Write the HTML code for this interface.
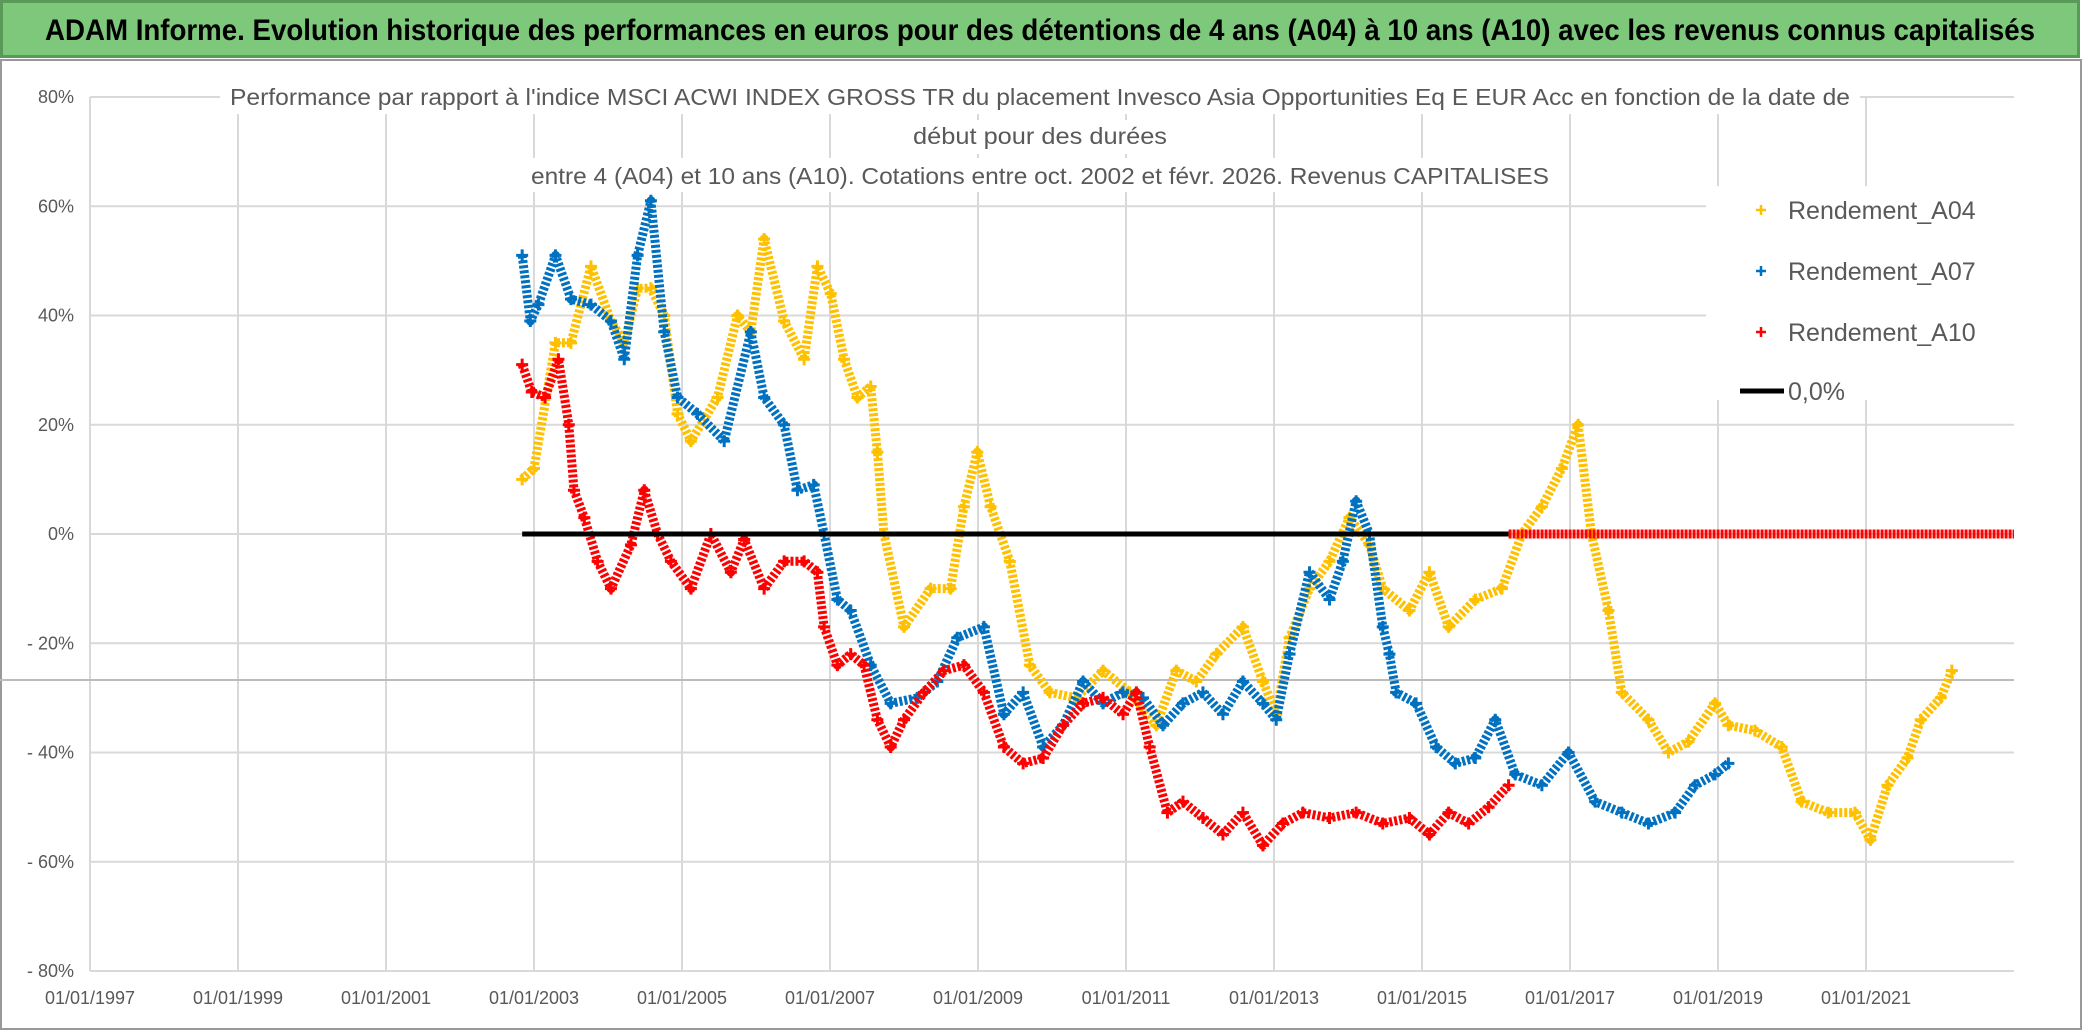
<!DOCTYPE html>
<html><head><meta charset="utf-8"><style>
body{margin:0;width:2086px;height:1031px;overflow:hidden;background:#fff;font-family:"Liberation Sans",sans-serif}
#hdr{position:absolute;left:0;top:0;width:2080px;height:58px;background:#7dc87a;border:3px solid #5a9a58;box-sizing:border-box}
svg{position:absolute;left:0;top:0}
</style></head><body>
<div id="hdr"></div>
<svg id="c" width="2086" height="1031">
<rect x="1" y="60" width="2080" height="969" fill="none" stroke="#999" stroke-width="2"/>
<text x="1040" y="40" text-anchor="middle" font-size="30" font-weight="bold" fill="#000" textLength="1990" lengthAdjust="spacingAndGlyphs">ADAM Informe. Evolution historique des performances en euros pour des détentions de 4 ans (A04) à 10 ans (A10) avec les revenus connus capitalisés</text>
</svg>
<script>
const tickYears=[1997,1999,2001,2003,2005,2007,2009,2011,2013,2015,2017,2019,2021];
const tickValues=[80,60,40,20,0,-20,-40,-60,-80];
const a04Years=[2002.84,2003.0,2003.29,2003.5,2003.77,2004.04,2004.22,2004.4,2004.58,2004.76,2004.94,2005.12,2005.48,2005.75,2005.93,2006.11,2006.38,2006.65,2006.83,2007.01,2007.19,2007.37,2007.55,2007.64,2007.73,2008.0,2008.36,2008.63,2008.81,2008.99,2009.17,2009.43,2009.7,2009.97,2010.33,2010.69,2011.05,2011.41,2011.68,2011.95,2012.22,2012.58,2012.85,2013.03,2013.21,2013.48,2013.75,2014.02,2014.29,2014.47,2014.83,2015.1,2015.36,2015.72,2016.08,2016.35,2016.62,2016.89,2017.11,2017.29,2017.52,2017.7,2018.06,2018.33,2018.6,2018.96,2019.14,2019.5,2019.86,2020.13,2020.49,2020.85,2021.06,2021.29,2021.56,2021.74,2022.01,2022.16];
const a04Values=[10,12,35,35,49,39,35,45,45,40,22,17,25,40,37,54,39,32,49,44,32,25,27,15,0,-17,-10,-10,5,15,5,-5,-24,-29,-30,-25,-29,-35,-25,-27,-22,-17,-27,-33,-19,-10,-5,3,-2,-10,-14,-7,-17,-12,-10,0,5,12,20,0,-14,-29,-34,-40,-38,-31,-35,-36,-39,-49,-51,-51,-56,-46,-41,-34,-30,-25];
const a07Years=[2002.84,2002.95,2003.06,2003.29,2003.5,2003.77,2004.04,2004.22,2004.4,2004.58,2004.76,2004.94,2005.21,2005.57,2005.93,2006.11,2006.38,2006.56,2006.78,2006.92,2007.1,2007.28,2007.55,2007.82,2008.18,2008.45,2008.72,2009.08,2009.35,2009.61,2009.88,2010.15,2010.42,2010.69,2010.96,2011.23,2011.5,2011.77,2012.04,2012.31,2012.58,2012.85,2013.03,2013.21,2013.48,2013.75,2013.93,2014.11,2014.29,2014.47,2014.56,2014.65,2014.92,2015.19,2015.45,2015.72,2015.99,2016.26,2016.62,2016.98,2017.34,2017.7,2018.06,2018.42,2018.69,2018.96,2019.14];
const a07Values=[51,39,42,51,43,42,39,32,51,61,37,25,22,17,37,25,20,8,9,0,-12,-14,-24,-31,-30,-27,-19,-17,-33,-29,-39,-35,-27,-31,-29,-30,-35,-31,-29,-33,-27,-31,-34,-22,-7,-12,-5,6,0,-17,-22,-29,-31,-39,-42,-41,-34,-44,-46,-40,-49,-51,-53,-51,-46,-44,-42];
const a10Years=[2002.84,2002.97,2003.15,2003.33,2003.47,2003.54,2003.68,2003.86,2004.04,2004.31,2004.49,2004.67,2004.85,2005.12,2005.39,2005.66,2005.84,2006.11,2006.38,2006.65,2006.83,2006.92,2007.1,2007.28,2007.46,2007.64,2007.82,2008.0,2008.27,2008.54,2008.81,2009.08,2009.35,2009.61,2009.88,2010.15,2010.42,2010.69,2010.96,2011.14,2011.32,2011.56,2011.77,2012.04,2012.31,2012.58,2012.85,2013.12,2013.39,2013.75,2014.11,2014.47,2014.83,2015.1,2015.36,2015.63,2015.9,2016.17];
const a10Values=[31,26,25,32,20,8,3,-5,-10,-2,8,0,-5,-10,0,-7,-1,-10,-5,-5,-7,-17,-24,-22,-24,-34,-39,-34,-29,-25,-24,-29,-39,-42,-41,-35,-31,-30,-33,-29,-39,-51,-49,-52,-55,-51,-57,-53,-51,-52,-51,-53,-52,-55,-51,-53,-50,-46];
const zeroLineStart=2002.84, zeroLineEnd=2016.17, redZeroEnd=2023;
const legendLabels=["Rendement_A04","Rendement_A07","Rendement_A10","0,0%"];

const NS="http://www.w3.org/2000/svg";
const svg=document.getElementById('c');
const X0=90,X1=2014,Y80=97,Ym80=971;
const xs=y=>X0+(y-1997)*(X1-X0)/26;
const ys=v=>Y80+(80-v)*(Ym80-Y80)/160;
function mk(tag,attrs,parent){const e=document.createElementNS(NS,tag);for(const k in attrs)e.setAttribute(k,attrs[k]);(parent||svg).appendChild(e);return e;}

tickValues.forEach(v=>{const l=mk('line',{x1:X0,x2:X1,y1:ys(v),y2:ys(v),stroke:'#d9d9d9','stroke-width':2});


const t=mk('text',{x:74,y:ys(v)+6,'text-anchor':'end','font-size':18,fill:'#595959'});
t.textContent=(v<0?'- '+(-v):v)+'%';

});
tickYears.forEach(yr=>{const l=mk('line',{x1:xs(yr),x2:xs(yr),y1:Y80,y2:Ym80,stroke:'#d9d9d9','stroke-width':2});


const t=mk('text',{x:xs(yr),y:1004,'text-anchor':'middle','font-size':18,fill:'#595959'});
t.textContent='01/01/'+yr;

});
const gl=mk('line',{x1:0,x2:X1,y1:680,y2:680,stroke:'#bbb','stroke-width':2});



const tl=["Performance par rapport à l'indice MSCI ACWI INDEX GROSS TR  du placement Invesco Asia Opportunities Eq E EUR Acc en fonction de la date de","début pour des durées","entre 4 (A04) et 10 ans (A10). Cotations entre oct. 2002 et févr. 2026. Revenus CAPITALISES"];
const tw=[1620,254,1018];
tl.forEach((s,i)=>{const r=mk('rect',{x:1040-tw[i]/2-10,y:[80,120,158][i],width:tw[i]+20,height:34,fill:'#fff'});


const t=mk('text',{x:1040,y:[105,144,184][i],'text-anchor':'middle','font-size':23,fill:'#595959',textLength:tw[i],lengthAdjust:'spacingAndGlyphs'});
t.textContent=s;

});

function series(years,vals,color,name){
 const g=mk('g',{});
 
 
 const pts=years.map((y,i)=>xs(y).toFixed(1)+','+ys(vals[i]).toFixed(1)).join(' ');
 mk('polyline',{points:pts,fill:'none',stroke:color,'stroke-width':9,'stroke-linejoin':'round','stroke-dasharray':'3 2'},g);
 years.forEach((y,i)=>{const x=xs(y),yy=ys(vals[i]);
  const p=mk('path',{d:`M${x-6},${yy}H${x+6}M${x},${yy-6}V${yy+6}`,stroke:color,'stroke-width':3},g);
  
  });
}
series(a04Years,a04Values,'#ffc000','series-a04');
series(a07Years,a07Values,'#0070c0','series-a07');
series(a10Years,a10Values,'#ff0000','series-a10');
const zl=mk('line',{x1:xs(zeroLineStart),x2:xs(zeroLineEnd),y1:ys(0),y2:ys(0),stroke:'#000','stroke-width':5});


const rz=mk('line',{x1:xs(zeroLineEnd),x2:xs(redZeroEnd),y1:ys(0),y2:ys(0),stroke:'#ff0000','stroke-width':9,'stroke-dasharray':'3 1'});



const lb=mk('rect',{x:1706,y:186,width:308,height:214,fill:'#fff'});


const lc=['#ffc000','#0070c0','#ff0000','#000'];
legendLabels.forEach((s,i)=>{const y=[210,271,332,391][i];
 const g=mk('g',{});
 
 
 if(i<3) mk('path',{d:`M1756,${y}h10M1761,${y-5}v10`,stroke:lc[i],'stroke-width':2.5},g);
 else mk('line',{x1:1740,x2:1784,y1:y,y2:y,stroke:'#000','stroke-width':5},g);
 const t=mk('text',{x:1788,y:y+9,'font-size':25,fill:'#595959'},g);
 t.textContent=s;});
</script>
</body></html>
